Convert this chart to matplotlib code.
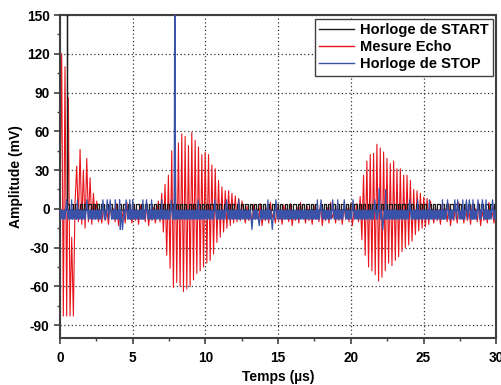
import matplotlib
matplotlib.use("Agg")
import matplotlib.pyplot as plt
import numpy as np
from matplotlib.ticker import MultipleLocator

plt.rcParams["font.family"] = "Liberation Sans"
plt.rcParams["font.weight"] = "bold"
plt.rcParams["axes.labelweight"] = "bold"
plt.rcParams["axes.unicode_minus"] = False

# --- data (time in us, amplitude in mV) ---
HALF = 0.115  # half period of the echo oscillation, us

# first burst (transducer ring-down), alternating extremes from t=0
burst1_t0 = 0.0
burst1 = [0, 120, -83, 110, -83, 86, -83, -22, -83, 5, 33, -10, 46, -12,
          30, -15, 39, -10, 24, -12, 12, -8, 6, -10]
# first echo
burst2_t0 = 6.65
burst2 = [-4, 6, -10, 12, -18, 19, -36, 26, -46, 45, -61, 55, -57, 51,
          -60, 58, -64, 56, -62, 49, -60, 59, -55, 53, -50, 48, -48, 42,
          -45, 44, -42, 42, -40, 34, -35, 31, -26, 22, -22, 17, -18, 14,
          -15, 14, -13, 12, -11, 10, -10, 8, -9, 6]
# second echo
burst3_t0 = 20.3
burst3 = [-4, 4, -10, 9.5, -24, 26, -36, 37, -45, 42, -48, 43, -51, 50,
          -56, 47, -53, 44, -48, 39, -42, 35, -44, 37, -40, 31, -37, 31,
          -33, 26, -30, 26, -28, 22, -25, 15, -20, 14, -17, 12, -15, 9,
          -14, 8, -12, 6]
# residual noise on the echo channel between bursts
echo_noise = [-3, -11, 2, -9, -1, -12, 3, -8, 0, -10, 4, -13, -2, -9, 1,
              -11, 5, -7]

# START clock: trigger spike + square wave
start_trigger = 0.45
start_levels = [4, -1]
start_step = 0.15

# STOP clock: square wave + pulses
stop_levels = [-1, -8]
stop_step = 0.05
stop_trigger = 7.92
stop_up_t = [0.46, 0.8, 1.19, 1.87, 2.97, 3.25, 3.43, 3.78, 4.12, 4.53,
             4.81, 5.01, 5.7, 5.97, 6.3, 7.0, 7.67, 9.5, 10.65, 11.45,
             12.3, 14.3, 14.84, 17.7, 17.97, 18.77, 19.1, 19.57, 20.15,
             21.63, 24.03, 24.6, 25.4, 26.3, 26.67, 27.13, 27.36, 27.7,
             27.93, 28.16, 28.4, 28.73, 29.07, 29.3, 29.76]
stop_up_v = 7
stop_big_t = [21.95, 22.4]
stop_big_v = [16, 15]
stop_down_t = [4.15, 4.3, 13.2, 13.7, 14.6, 22.2]
stop_down_v = [-16, -16, -16, -13, -16, -16]


def echo_trace():
    ts, vs = [], []
    segs = [(burst1_t0, burst1), (burst2_t0, burst2), (burst3_t0, burst3)]
    ends = [burst2_t0, burst3_t0, 30.0]
    for (t0, vals), t_end in zip(segs, ends):
        t = t0 + HALF * np.arange(len(vals))
        ts.append(t)
        vs.append(np.array(vals, float))
        tn = np.arange(t[-1] + HALF, t_end, HALF)
        ts.append(tn)
        vs.append(np.resize(echo_noise, len(tn)).astype(float))
    return np.concatenate(ts), np.concatenate(vs)


def start_trace():
    t = np.arange(start_trigger, 30.0, start_step)
    v = np.resize(start_levels, len(t)).astype(float)
    t = np.concatenate([[start_trigger - 0.01, start_trigger], t])
    v = np.concatenate([[0, 200], v])
    return t, v


def stop_trace():
    t = np.arange(0.0, 30.0, stop_step)
    v = np.resize(stop_levels, len(t)).astype(float)
    for tt in stop_up_t:
        v[np.argmin(abs(t - tt))] = stop_up_v
    for tt, vv in zip(stop_big_t, stop_big_v):
        v[np.argmin(abs(t - tt))] = vv
    for tt, vv in zip(stop_down_t, stop_down_v):
        v[np.argmin(abs(t - tt))] = vv
    v[np.argmin(abs(t - stop_trigger))] = 200
    return t, v


fig = plt.figure(figsize=(5.02, 3.85), dpi=100)
ax = fig.add_axes([0.1195, 0.122, 0.869, 0.839])

te, ve = echo_trace()
ts, vs = start_trace()
tp, vp = stop_trace()

l_echo, = ax.plot(te, ve, color="#e8141c", lw=0.8, zorder=2)
l_start, = ax.plot(ts, vs, color="#1a1a1a", lw=0.9, drawstyle="steps-post",
                   zorder=3)
l_stop, = ax.plot(tp, vp, color="#3a52a8", lw=0.9, zorder=4)

ax.set_xlim(0, 30)
ax.set_ylim(-100, 150)
ax.xaxis.set_major_locator(MultipleLocator(5))
ax.xaxis.set_minor_locator(MultipleLocator(2.5))
ax.set_yticks(np.arange(-90, 151, 30))
ax.yaxis.set_minor_locator(MultipleLocator(15))
ax.grid(True, which="major", color="#333333", linestyle=(0, (1, 2)), lw=0.9)

for s in ax.spines.values():
    s.set_color("#404040")
    s.set_linewidth(1.5)
ax.tick_params(which="major", direction="out", length=4, width=1.2,
               labelsize=9.8, color="#404040")
ax.tick_params(axis="x", which="major", pad=5)
ax.tick_params(axis="y", which="major", pad=3.5)
ax.tick_params(which="minor", direction="out", length=2.5, width=1.0,
               color="#404040")

ax.set_xlabel("Temps (µs)", fontsize=10, fontweight="bold", labelpad=4)
ax.set_ylabel("Amplitude (mV)", fontsize=10, fontweight="bold", labelpad=3)

leg = ax.legend([l_start, l_echo, l_stop],
                ["Horloge de START", "Mesure Echo", "Horloge de STOP"],
                loc="upper right", fancybox=False, framealpha=1,
                edgecolor="#404040", borderaxespad=0.25,
                prop={"family": "Liberation Sans", "size": 10.5,
                      "weight": "bold"},
                handlelength=2.4, handletextpad=0.35, labelspacing=0.22,
                borderpad=0.3)
leg.get_frame().set_linewidth(1.0)
for h in leg.legend_handles:
    h.set_linewidth(1.0)

fig.savefig("out.png", dpi=100)
